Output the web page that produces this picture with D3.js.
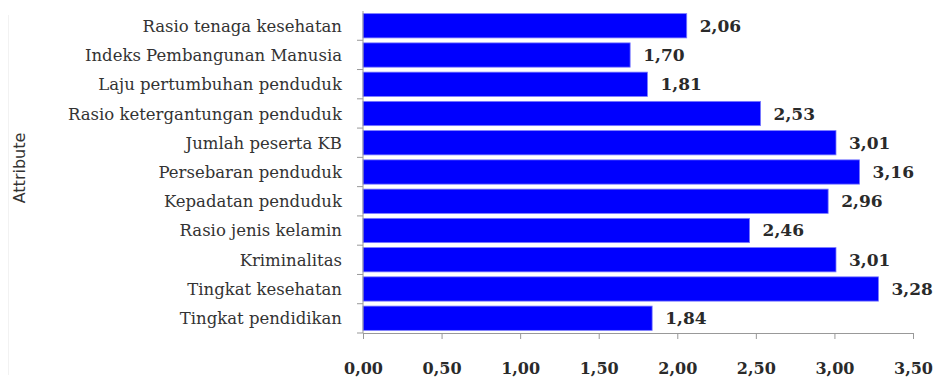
<!DOCTYPE html>
<html>
<head>
<meta charset="utf-8">
<script src="https://cdn.jsdelivr.net/npm/d3@7"></script>
<style>
  html, body { margin: 0; padding: 0; background: #fff; }
  svg { display: block; }
</style>
</head>
<body>
<svg id="chart" width="938" height="378"></svg>
<script>
// Attribute names, top to bottom
const categories = [
  "Rasio tenaga kesehatan",
  "Indeks Pembangunan Manusia",
  "Laju pertumbuhan penduduk",
  "Rasio ketergantungan penduduk",
  "Jumlah peserta KB",
  "Persebaran penduduk",
  "Kepadatan penduduk",
  "Rasio jenis kelamin",
  "Kriminalitas",
  "Tingkat kesehatan",
  "Tingkat pendidikan"
];
const values = [2.06, 1.70, 1.81, 2.53, 3.01, 3.16, 2.96, 2.46, 3.01, 3.28, 1.84];
const xTicks = [0, 0.5, 1, 1.5, 2, 2.5, 3, 3.5];
const axisTitle = "Attribute";

const svg = d3.select("#chart");
const margin = { left: 363, right: 25, top: 11, bottom: 45 };
const W = 938, H = 378;

const fmt = v => d3.format(".2f")(v).replace(".", ",");

const x = d3.scaleLinear().domain([0, 3.5]).range([margin.left, W - margin.right]);
const y = d3.scaleBand().domain(categories).range([margin.top, H - margin.bottom])
  .paddingInner(0.17).paddingOuter(0.09);

const serif = "DejaVu Serif, serif";

// faint frame line on the left edge
svg.append("line")
  .attr("x1", 8.5).attr("x2", 8.5).attr("y1", 15).attr("y2", 375)
  .attr("stroke", "#f2f2f2");

// bars
svg.append("g").selectAll("rect").data(categories).join("rect")
  .attr("x", x(0))
  .attr("y", d => y(d))
  .attr("width", (d, i) => x(values[i]) - x(0))
  .attr("height", y.bandwidth())
  .attr("fill", "#0000ff")
  .attr("stroke", "#7a7aff")
  .attr("stroke-width", 0.8);

// value labels
svg.append("g").selectAll("text").data(categories).join("text")
  .attr("x", (d, i) => x(values[i]) + 13)
  .attr("y", d => y(d) + y.bandwidth() / 2 + 6)
  .attr("font-family", serif)
  .attr("font-weight", "bold")
  .attr("font-size", 17)
  .attr("fill", "#2a2a2a")
  .text((d, i) => fmt(values[i]));

// y axis with category labels
const yAxisG = svg.append("g");
yAxisG.append("line")
  .attr("x1", x(0)).attr("x2", x(0))
  .attr("y1", margin.top).attr("y2", H - margin.bottom)
  .attr("stroke", "#999");
// ticks between categories
const boundaries = d3.range(categories.length + 1).map(i => y.range()[0] + i * (y.range()[1] - y.range()[0]) / categories.length);
yAxisG.selectAll("line.tick").data(boundaries.slice(1)).join("line")
  .attr("class", "tick")
  .attr("x1", x(0) - 6).attr("x2", x(0))
  .attr("y1", d => d).attr("y2", d => d)
  .attr("stroke", "#999");
yAxisG.selectAll("text").data(categories).join("text")
  .attr("x", x(0) - 21)
  .attr("y", d => y(d) + y.bandwidth() / 2 + 6)
  .attr("text-anchor", "end")
  .attr("font-family", serif)
  .attr("font-size", 16.5)
  .attr("fill", "#333")
  .text(d => d);

// x axis
const xAxis = d3.axisBottom(x).tickValues(xTicks).tickFormat(fmt).tickSize(6).tickPadding(24);
const xg = svg.append("g")
  .attr("transform", `translate(0,${H - margin.bottom})`)
  .call(xAxis);
xg.select(".domain").attr("stroke", "#999");
xg.selectAll(".tick line").attr("stroke", "#999");
xg.selectAll(".tick text")
  .attr("font-family", serif)
  .attr("font-weight", "bold")
  .attr("font-size", 16)
  .attr("fill", "#2a2a2a");

// axis title
svg.append("text")
  .attr("transform", `translate(25,168) rotate(-90)`)
  .attr("text-anchor", "middle")
  .attr("font-family", "DejaVu Sans, sans-serif")
  .attr("font-size", 16)
  .attr("fill", "#333")
  .text(axisTitle);
</script>
</body>
</html>
